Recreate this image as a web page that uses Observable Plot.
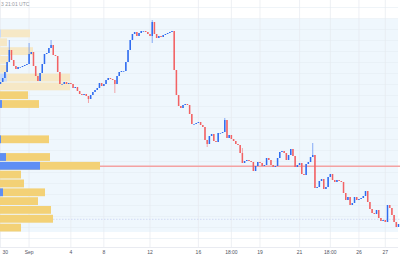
<!DOCTYPE html>
<html><head><meta charset="utf-8">
<script src="https://cdn.jsdelivr.net/npm/d3@7"></script>
<script src="https://cdn.jsdelivr.net/npm/@observablehq/plot@0.6"></script>
<style>
html,body{margin:0;padding:0;background:#fff;}
#wrap{position:relative;width:400px;height:267px;overflow:hidden;font-family:"Liberation Sans",Arial,sans-serif;}
#wrap svg{position:absolute;left:0;top:0;}
#hdr{position:absolute;left:1px;top:1px;font-size:5px;color:#9598a1;z-index:5;white-space:nowrap;}
</style></head><body>
<div id="wrap"></div>
<script>
// ---- candle data (price units, arbitrary) ----
const firstOpen = 156;
const closes = [158,162,168,178,190,180,174,171,173,173,174,175,176,186,188,174,164,159,167,176,
186,187,192,195,185,184,168,156,156,158,156,157,156,152,153,149,146,145,146,144,
141,145,148,150,152,157,154,156,160,162,161,160,156,164,168,169,169,178,190,200,
206,208,204,207,209,209,208,206,204,218,206,202,204,203,205,206,207,208,209,170,
145,134,132,135,136,135,126,116,116,117,118,115,113,100,96,104,106,99,98,107,
107,108,120,102,105,101,99,96,95,87,77,79,80,79,78,69,74,78,77,74,
75,82,80,75,73,74,82,88,89,87,80,85,91,84,73,75,77,66,65,76,
78,83,85,52,53,59,61,51,53,63,66,60,58,60,59,58,47,40,43,35,
37,43,40,41,42,44,49,38,31,27,26,30,22,19,20,18,35,32,25,18,13,16];
// [candle index, high, low] for candles with visible wicks
const wicks = [[4,200,null],[13,197,null],[23,200,null],[40,null,137],[52,null,147],
[69,220,197],[94,null,93],[102,122,null],[110,92,null],[142,97,null]];

// ---- time axis ----
const tickIdx = [0,13,32,47,68,90,105,118,136,150,163,175];
const tickLabels = ["30","Sep","4","8","12","16","18:00","19","21","18:00","26","27"];

// ---- volume profile (bins from bottom) ----
const vpEdges = [8,16.8,25.7,34.5,43.3,52.1,61.0,69.8,78.6,87.4,96.3,105.1,113.9,122.7,131.6,140.4,149.2,158.0,166.9,175.7,184.5,193.3,202.2,211.0];
const vpTotal = [210,530,510,380,450,240,210,1000,500,0,490,0,0,0,390,280,700,700,80,80,330,70,300];
const vpBuy   = [0,0,0,0,30,0,0,400,60,0,10,0,0,0,20,0,0,70,0,0,0,0,10];
const valueAreaHigh = 149.2;
const pocPrice = 74.2, pocVolume = 1000;
const valPrice = 21.2, valVolume = 530;
const bandLow = 8, bandHigh = 221;

const W = 400, H = 267, MB = 20;
const yDom = [-7, 240];
const xDom = [0, closes.length - 1];
const UP = "#2f6cf0", DOWN = "#f26264";

const candles = closes.map((c, i) => {
  const o = i === 0 ? firstOpen : closes[i - 1];
  const w = wicks.find(d => d[0] === i);
  return {i, o, c,
    h: w && w[1] != null ? w[1] : Math.max(o, c),
    l: w && w[2] != null ? w[2] : Math.min(o, c),
    up: c >= o};
});
const bins = vpTotal.map((v, k) => ({lo: vpEdges[k], hi: vpEdges[k + 1], total: v, buy: vpBuy[k], va: vpEdges[k + 1] <= valueAreaHigh + 0.01}));
const ticks = tickIdx.map((t, k) => ({t, label: tickLabels[k], first: k === 0}));

const common = {width: W, height: H, marginTop: 0, marginBottom: MB, marginLeft: 0, marginRight: 2,
  style: {background: "transparent", overflow: "hidden"}};

const layer1 = Plot.plot({...common,
  x: {domain: xDom, axis: null},
  y: {domain: yDom, axis: null},
  marks: [
    Plot.rect([0], {y1: bandLow, y2: bandHigh, fill: "#eff7fd"}),
    Plot.ruleY(d3.range(2, 234, 11), {stroke: "#e4ecf3", strokeWidth: 0.6}),
    Plot.ruleX(tickIdx, {stroke: "#e6eaef", strokeWidth: 0.7}),
    Plot.ruleY([-7], {stroke: "#e0e3eb", strokeWidth: 0.7})
  ]});

const layer2 = Plot.plot({...common, marginRight: 0,
  x: {domain: [0, 4000], axis: null},
  y: {domain: yDom, axis: null},
  marks: [
    Plot.rectX(bins.filter(b => b.total > 0), {x1: 0, x2: "total", y1: "lo", y2: "hi", insetTop: 0.5, insetBottom: 0.5,
      fill: d => d.va ? "#f3d176" : "#f6e8c6"}),
    Plot.rectX(bins.filter(b => b.buy > 0), {x1: 0, x2: "buy", y1: "lo", y2: "hi", insetTop: 0.5, insetBottom: 0.5,
      fill: d => d.va ? "#5e8ef5" : "#c9dbf7"}),
    Plot.ruleY([pocPrice], {x1: pocVolume, x2: 4000, stroke: "#f4a2a2", strokeWidth: 1.4}),
    Plot.ruleY([valPrice], {x1: valVolume, x2: 4000, stroke: "#c9d3f2", strokeWidth: 0.8, strokeDasharray: "1.5,1.5"})
  ]});

const tickFont = {y: -12, text: "label", fontSize: 5, fill: "#50535e", fontFamily: "Liberation Sans, Arial, sans-serif"};
const layer3 = Plot.plot({...common,
  x: {domain: xDom, axis: null},
  y: {domain: yDom, axis: null},
  marks: [
    Plot.ruleX(candles, {x: "i", y1: "l", y2: "h", stroke: d => d.up ? UP : DOWN, strokeWidth: 0.7, strokeOpacity: 0.8}),
    Plot.ruleX(candles, {x: "i", y1: "o", y2: d => d.c === d.o ? d.o - 0.7 : d.c, stroke: d => d.up ? UP : DOWN, strokeWidth: 1.5}),
    Plot.text(ticks.filter(d => !d.first), {...tickFont, x: "t", textAnchor: "middle"}),
    Plot.text(ticks.filter(d => d.first), {...tickFont, x: "t", textAnchor: "start", dx: 2})
  ]});

const wrap = document.getElementById("wrap");
wrap.append(layer1, layer2, layer3);
const hdr = document.createElement("div");
hdr.id = "hdr"; hdr.textContent = "3 21:01 UTC";
wrap.append(hdr);
</script>
</body></html>
